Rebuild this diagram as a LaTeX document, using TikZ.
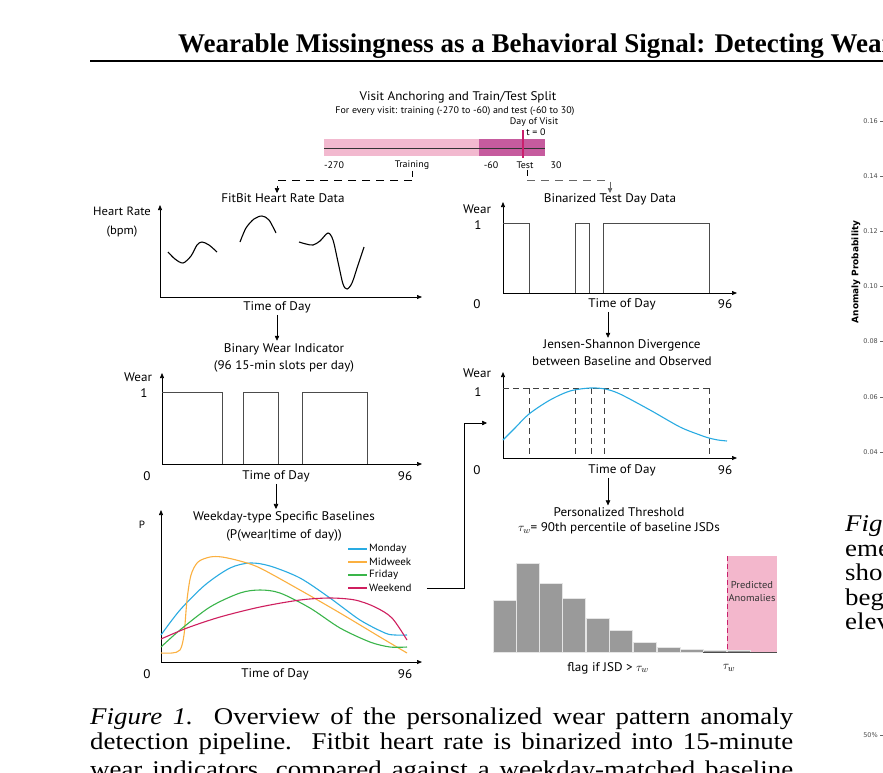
\documentclass[tikz,border=0pt]{standalone}
\usepackage{fontspec}
\setmainfont{Liberation Serif}[FakeStretch=1.12]
\newfontfamily\headfont{Liberation Serif}
\newfontfamily\figfont{PT Sans}[FakeStretch=1.05]
\newfontfamily\pltfont{DejaVu Sans}
\usetikzlibrary{arrows.meta}
\definecolor{trainpk}{HTML}{F2B9CF}
\definecolor{testpk}{HTML}{C65B9E}
\definecolor{visit}{HTML}{C9206C}
\definecolor{mon}{HTML}{29ABE2}
\definecolor{mid}{HTML}{FBB040}
\definecolor{fri}{HTML}{3AB54A}
\definecolor{wkd}{HTML}{CF1F5F}
\definecolor{anompk}{HTML}{F3B7CC}
\definecolor{histgr}{HTML}{9A9A9A}
\tikzset{
  lbl/.style   = {inner sep=0, font=\figfont\fontsize{12.5}{16}\selectfont},
  ttl/.style   = {inner sep=0, align=center, font=\figfont\fontsize{12.5}{16.5}\selectfont},
  sml/.style   = {inner sep=0, font=\figfont\fontsize{9.5}{11}\selectfont},
  leg/.style   = {inner sep=0, anchor=west, font=\figfont\fontsize{10.5}{12}\selectfont},
  captxt/.style= {inner sep=0, anchor=base west, font=\fontsize{24}{25.5}\selectfont},
  ytick/.style = {inner sep=0, anchor=east, text=black!70, font=\pltfont\fontsize{6.5}{7}\selectfont},
  ax/.style    = {{Triangle[length=5pt,width=4pt]}-{Triangle[length=5pt,width=4pt]}, line width=0.7pt},
  flow/.style  = {-{Triangle[length=5pt,width=4.5pt]}, line width=0.6pt},
  dflow/.style = {flow, dash pattern=on 8pt off 6pt},
  wear/.style  = {line width=0.8pt, black!70},
  guide/.style = {line width=0.7pt, black!75, dash pattern=on 6pt off 4pt},
  crv/.style   = {line width=1.1pt},
  bar/.style   = {fill=histgr, draw=white!80!gray, line width=0.6pt}
}

\begin{document}
\begin{tikzpicture}[x=1pt, y=-1pt]
  \useasboundingbox (0,0) rectangle (883,772);
  \clip (0,0) rectangle (883,772);
  \fill[white] (0,0) rectangle (883,772);

  % running head
  \node[anchor=base west, inner sep=0, font=\headfont\bfseries\fontsize{27}{29}\selectfont] (head) at (178,52) {Wearable Missingness as a Behavioral Signal: Detecting Wear};
  \draw[line width=2.6pt] (90,61) -- (883,61);

  % visit anchoring
  \node[ttl] (split) at (458,97) {Visit Anchoring and Train/Test Split};
  \node[sml] (splitsub) at (455,111) {For every visit: training (-270 to -60) and test (-60 to 30)};
  \node[sml] (dov) at (534,122) {Day of Visit};
  \node[sml] (tzero) at (536,132) {t = 0};
  \fill[trainpk] (324,139) rectangle (479,156);
  \fill[testpk] (479,139) rectangle (545,156);
  \draw[line width=0.6pt, black!80] (324,148) -- (545,148);
  \draw[visit, line width=1.3pt] (523,130) -- (523,158);
  \node[sml] (m270) at (334,165) {-270};
  \node[sml] (trn) at (412,165) {Training};
  \node[sml] (m60) at (491,165) {-60};
  \node[sml] (tst) at (525,165) {Test};
  \node[sml] (p30) at (556,165) {30};
  \coordinate (hrin) at (277,193);
  \coordinate (btin) at (610,193);
  \draw[line width=0.6pt] (trn.south) ++(0,1) -- ++(0,6) coordinate (trnfoot);
  \draw[line width=0.6pt] (tst.south) ++(2,1) -- ++(0,6) coordinate (tstfoot);
  \draw[dflow] (trnfoot) ++(0,4) -| (hrin);
  \draw[dflow, black!60] (tstfoot) ++(0,5) -| (btin);

  % heart rate
  \node[lbl] (hrttl) at (283,198) {FitBit Heart Rate Data};
  \node[lbl, align=center, font=\figfont\fontsize{12}{19}\selectfont] (hry) at (122,222) {Heart Rate\\(bpm)};
  \draw[ax] (160,205) |- (422,297);
  \node[lbl] (hrx) at (277,307) {Time of Day};
  \draw[crv] plot[smooth] coordinates {(168,252) (175,259) (183,263) (191,256) (197,245) (202,242) (209,245) (217,252)};
  \draw[crv] plot[smooth] coordinates {(240,242) (246,228) (254,219) (262,216) (269,220) (276,233)};
  \draw[crv] plot[smooth] coordinates {(299,242) (306,244) (313,245) (320,241) (328,233) (333,240) (338,262) (343,284) (347,289) (352,283) (358,265) (364,247)};

  % binary wear indicator
  \node[ttl] (bwttl) at (284,358) {Binary Wear Indicator\\(96 15-min slots per day)};
  \draw[flow, shorten <=2pt, shorten >=3pt] (hrx.south) -- (hrx.south |- bwttl.north);
  \node[lbl] (bwy) at (138,377) {Wear};
  \node[lbl] (bwone) at (144,393) {1};
  \draw[ax] (162,373) |- (422,464);
  \draw[wear] (162,392) -- (222,392) -- (222,464);
  \draw[wear] (243,464) -- (243,392) -- (278,392) -- (278,464);
  \draw[wear] (302,464) -- (302,392) -- (367,392) -- (367,464);
  \node[lbl] (bwzero) at (147,476) {0};
  \node[lbl] (bwx) at (276,476) {Time of Day};
  \node[lbl] (bwend) at (405,476) {96};

  % weekday baselines
  \node[ttl, font=\figfont\fontsize{12.5}{18}\selectfont] (blttl) at (284,526) {Weekday-type Specific Baselines\\(P(wear|time of day))};
  \draw[flow, shorten <=2pt, shorten >=2pt] (bwx.south) -- (bwx.south |- blttl.north);
  \node[lbl, font=\figfont\fontsize{10.5}{12}\selectfont] (bly) at (142,525) {P};
  \draw[ax] (161,510) |- (422,662);
  \draw[crv, mon] plot[smooth] coordinates {(161,635) (180,610) (205,585) (230,568) (250,563) (270,566) (300,578) (330,598) (360,620) (385,633) (395,635) (407,635)};
  \draw[crv, mid] plot[smooth, tension=0.5] coordinates {(161,653) (172,653) (180,650) (184,635) (187,600) (191,575) (198,562) (210,557) (222,557) (240,561) (260,568) (300,590) (340,613) (380,637) (407,653)};
  \draw[crv, fri] plot[smooth] coordinates {(161,647) (180,630) (210,607) (240,593) (260,590) (280,593) (310,608) (340,628) (370,642) (390,647) (407,647)};
  \draw[crv, wkd] plot[smooth] coordinates {(161,639) (187,628) (220,617) (260,607) (300,600) (330,598) (355,600) (375,607) (392,618) (407,640)};
  \foreach \c/\n/\y in {mon/Monday/549, mid/Midweek/562, fri/Friday/575, wkd/Weekend/588} {
    \draw[\c, line width=1.1pt] (348,\y) -- (367,\y);
    \node[leg] (lg\n) at (369,\y) {\n};
  }
  \node[lbl] (blzero) at (147,674) {0};
  \node[lbl] (blx) at (275,674) {Time of Day};
  \node[lbl] (blend) at (405,674) {96};

  % binarized test day
  \node[lbl] (btttl) at (610,199) {Binarized Test Day Data};
  \node[lbl] (bty) at (477,209) {Wear};
  \node[lbl] (btone) at (478,225) {1};
  \draw[ax] (503,202) |- (737,293);
  \draw[wear] (503,223) -- (529,223) -- (529,293);
  \draw[wear] (575,293) -- (575,223) -- (589,223) -- (589,293);
  \draw[wear] (603,293) -- (603,223) -- (709,223) -- (709,293);
  \node[lbl] (btzero) at (477,304) {0};
  \node[lbl] (btx) at (622,304) {Time of Day};
  \node[lbl] (btend) at (725,304) {96};

  % jensen-shannon divergence
  \node[ttl, font=\figfont\fontsize{12.5}{17}\selectfont] (jsttl) at (622,353) {Jensen-Shannon Divergence\\between Baseline and Observed};
  \draw[flow, shorten <=2pt, shorten >=2pt] ([xshift=-14pt]btx.south) -- ([xshift=-14pt]btx.south |- jsttl.north);
  \node[lbl] (jsy) at (477,373) {Wear};
  \node[lbl] (jsone) at (478,392) {1};
  \draw[ax] (503,372) |- (737,458);
  \draw[guide] (503,388) -- (709,388);
  \foreach \x in {529,575,591,604,709} \draw[guide] (\x,388) -- (\x,458);
  \draw[crv, mon] plot[smooth] coordinates {(503,440) (515,428) (529,414) (550,400) (570,391) (590,388) (605,389) (620,394) (650,410) (680,427) (700,435) (709,438) (718,440) (727,441)};
  \node[lbl] (jszero) at (477,470) {0};
  \node[lbl] (jsx) at (622,470) {Time of Day};
  \node[lbl] (jsend) at (725,470) {96};
  \coordinate (jsin) at (487,423);
  \draw[flow] ([xshift=15pt]lgWeekend.east) -- ++(37,0) |- (jsin);

  % personalized threshold
  \node[ttl, font=\figfont\fontsize{12.5}{15.5}\selectfont] (thttl) at (619,521) {Personalized Threshold\\$\tau_w$= 90th percentile of baseline JSDs};
  \draw[flow, shorten <=2pt, shorten >=2pt] ([xshift=-14pt]jsx.south) -- ([xshift=-14pt]jsx.south |- thttl.north);
  \fill[anompk] (727,556) rectangle (777,652);
  \foreach \l/\t in {493/600, 516/563, 539/583, 562/598, 586/618, 609/630, 633/642, 657/647, 680/649, 703/650, 727/650}
    \draw[bar] (\l,652) rectangle (\l+23.5,\t);
  \draw[black!70, line width=1pt] (703,652) -- (777,652);
  \draw[visit, line width=0.8pt, dash pattern=on 5pt off 3pt] (727,556) -- (727,652);
  \node[lbl, align=center, text=black!80, font=\figfont\fontsize{10}{13}\selectfont] (anom) at (752,592) {Predicted\\Anomalies};
  \node[lbl] (flag) at (608,668) {flag if JSD > $\tau_w$};
  \node[lbl] (tauw) at (729,668) {$\tau_w$};

  % next figure, cut at the page edge
  \foreach \v/\y in {0.16/121, 0.14/176, 0.12/231, 0.10/286, 0.08/341, 0.06/397, 0.04/452} {
    \node[ytick] (yt\y) at (878,\y) {\v};
    \draw[black!60, line width=0.4pt] (880,\y) -- (883,\y);
  }
  \node[ytick] (yt50) at (878,735) {50\%};
  \draw[black!60, line width=0.4pt] (880,735) -- (883,735);
  \node[rotate=90, inner sep=0, font=\pltfont\bfseries\fontsize{9}{10}\selectfont] (anomprob) at (856,272) {Anomaly Probability};
  \node[captxt] (rc1) at (845,531) {\textit{Fig}};
  \node[captxt] (rc2) at (845,556) {eme};
  \node[captxt] (rc3) at (845,580) {sho};
  \node[captxt] (rc4) at (845,605) {beg};
  \node[captxt] (rc5) at (845,629) {elev};

  % caption
  \node[captxt] (cap1) at (90,724) {\makebox[703pt][s]{\textit{Figure 1.}\ \ Overview of the personalized wear pattern anomaly}};
  \node[captxt] (cap2) at (90,749.5) {\makebox[703pt][s]{detection pipeline.\ \ Fitbit heart rate is binarized into 15-minute}};
  \node[captxt] (cap3) at (90,777) {\makebox[703pt][s]{wear indicators, compared against a weekday-matched baseline}};
\end{tikzpicture}
\end{document}
